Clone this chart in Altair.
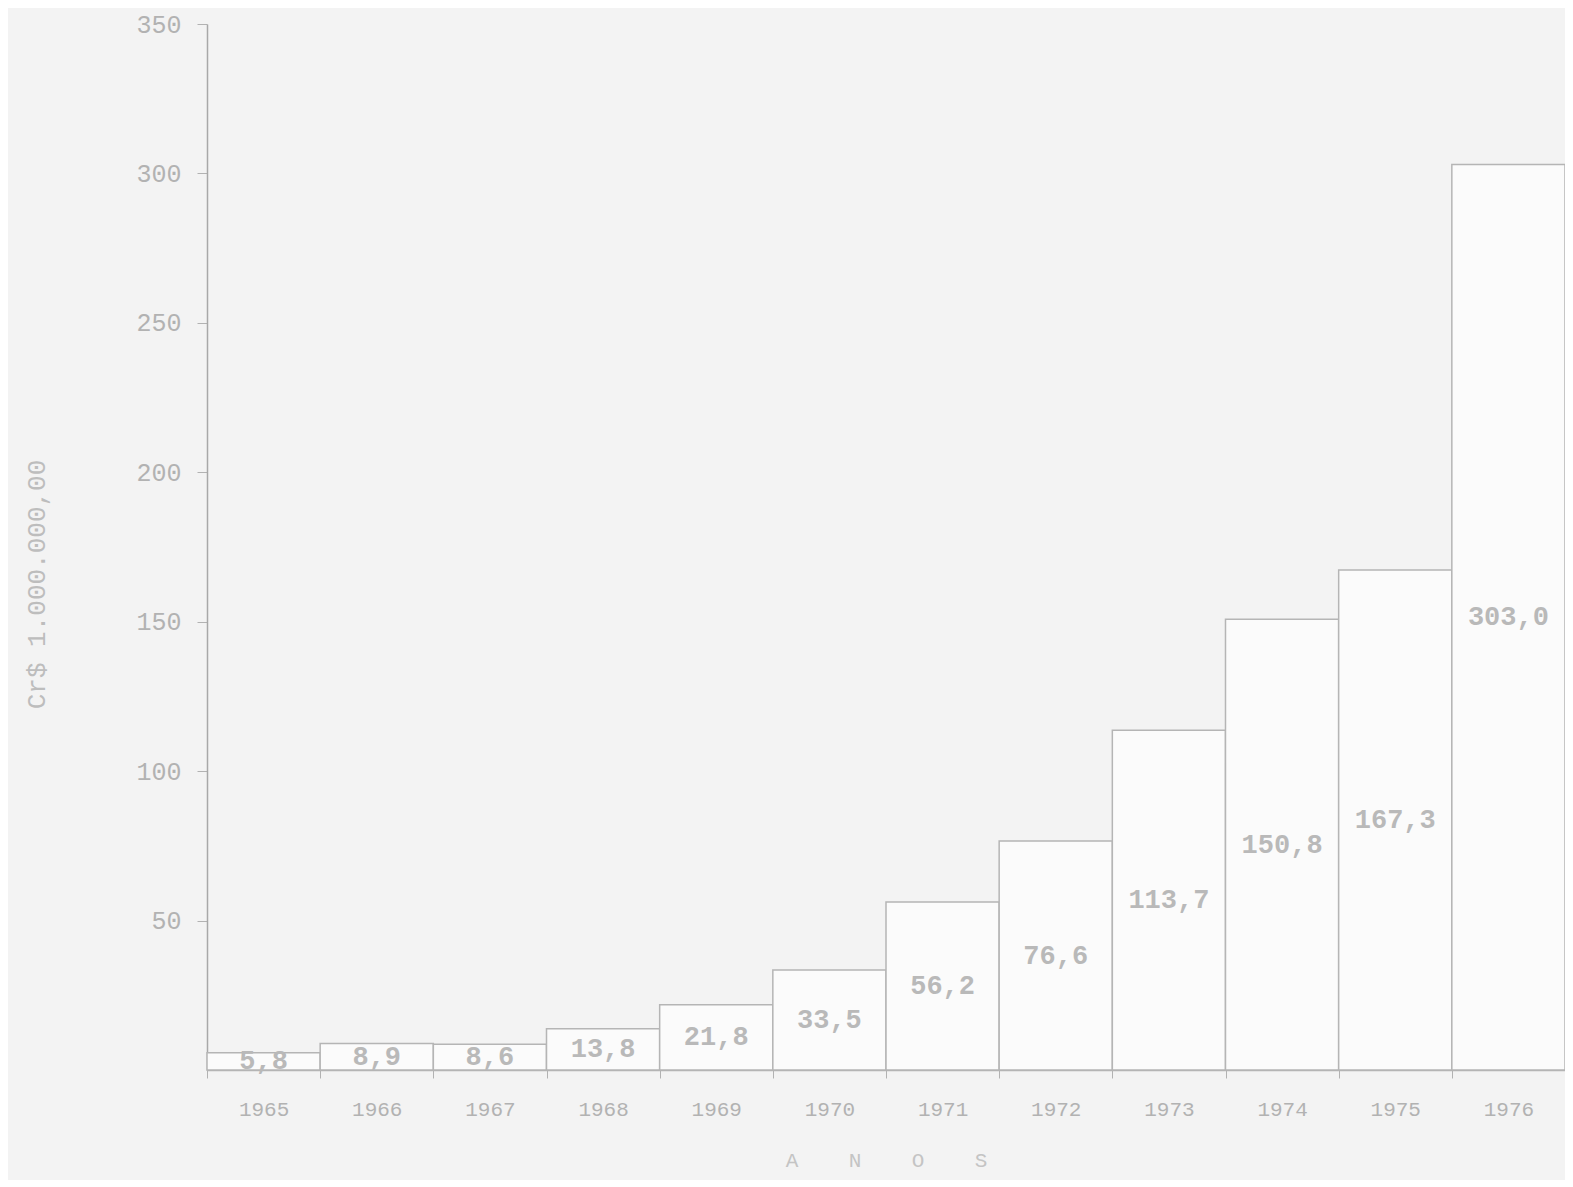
import altair as alt
import pandas as pd

years = ["1965", "1966", "1967", "1968", "1969", "1970", "1971", "1972", "1973", "1974", "1975", "1976"]
values = [5.8, 8.9, 8.6, 13.8, 21.8, 33.5, 56.2, 76.6, 113.7, 150.8, 167.3, 303.0]
y_ticks = [50, 100, 150, 200, 250, 300, 350]

df = pd.DataFrame({"ano": years, "valor": values})

FONT = "Liberation Mono"
INK = "#b2b2b2"
GAP = "\u00a0" * 4

x = alt.X("ano:O", sort=years,
          scale=alt.Scale(paddingInner=0, paddingOuter=0),
          axis=alt.Axis(title=GAP.join("ANOS"), labelAngle=0, labelFont=FONT, labelFontSize=21,
                        labelColor=INK, labelPadding=20, ticks=True, tickBand="extent", tickSize=8,
                        tickColor=INK, domainColor=INK, domainWidth=1.5, titleFont=FONT,
                        titleFontSize=21, titleFontWeight="normal", titleColor="#c4c4c4",
                        titlePadding=30))

bars = alt.Chart(df).mark_bar(fill="#fbfbfb", stroke="#b5b5b5", strokeWidth=1.5).encode(
    x=x,
    y=alt.Y("valor:Q", scale=alt.Scale(domain=[0, 350], nice=False),
            axis=alt.Axis(title="Cr$ 1.000.000,00", values=y_ticks, labelFont=FONT,
                          labelFontSize=25, labelColor=INK, tickSize=10, tickColor=INK,
                          labelPadding=16, domainColor="#a8a8a8", domainWidth=1.5, grid=False,
                          titleFont=FONT, titleFontSize=26, titleFontWeight="normal",
                          titleColor="#bdbdbd", titleX=-158, titleY=560)),
)

labels = alt.Chart(df).transform_calculate(
    txt="replace(format(datum.valor, '.1f'), '.', ',')",
    pos="max(datum.valor * 0.5, 2.8)",
).mark_text(font=FONT, fontSize=27, fontWeight="bold", color="#b9b9b9", baseline="middle").encode(
    x=alt.X("ano:O", sort=years),
    y=alt.Y("pos:Q"),
    text="txt:N",
)

chart = alt.layer(bars, labels).properties(
    width=1358, height=1046,
    autosize=alt.AutoSizeParams(type="none"),
    padding={"left": 199, "top": 16, "right": 0, "bottom": 110},
    background="#f3f3f3",
).configure_view(stroke=None)

chart.save("out.html", embed_options={"renderer": "svg", "actions": False})
